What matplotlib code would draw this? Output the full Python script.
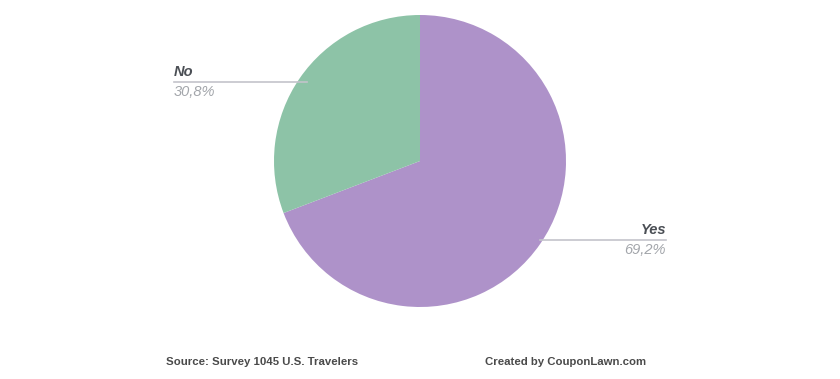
import matplotlib.pyplot as plt
import numpy as np

labels = ['Yes', 'No']
shares = [69.2, 30.8]
pct_text = ['69,2%', '30,8%']
colours = ['#ae92c9', '#8dc3a7']

plt.rcParams['font.family'] = ['Liberation Sans', 'DejaVu Sans']

fig = plt.figure(figsize=(8.4, 3.79), dpi=100)
ax = fig.add_axes([0, 0, 1, 1])

cx, cy, r = 420, 218, 146
wedges, _ = ax.pie(shares, colors=colours, startangle=90, counterclock=False,
                   center=(cx, cy), radius=r, frame=True)
ax.set_xlim(0, 840)
ax.set_ylim(0, 379)
ax.set_aspect('equal')
ax.axis('off')

# label leader lines (pixel layout)
line_col = '#c3c3cb'
ax.plot([174, 307], [379 - 82, 379 - 82], color=line_col, lw=1.2)
ax.plot([540, 666], [379 - 240, 379 - 240], color=line_col, lw=1.2)

name_col = '#4b4f55'
pct_col = '#a3a6ab'
ax.text(174, 379 - 79, labels[1], ha='left', va='bottom', fontsize=10.5,
        fontweight='bold', fontstyle='italic', color=name_col)
ax.text(174, 379 - 85, pct_text[1], ha='left', va='top', fontsize=10.5,
        fontstyle='italic', color=pct_col)
ax.text(666, 379 - 237, labels[0], ha='right', va='bottom', fontsize=10.5,
        fontweight='bold', fontstyle='italic', color=name_col)
ax.text(666, 379 - 243, pct_text[0], ha='right', va='top', fontsize=10.5,
        fontstyle='italic', color=pct_col)

ax.text(166, 379 - 362, 'Source: Survey 1045 U.S. Travelers', ha='left', va='center',
        fontsize=8.2, fontweight='bold', color='#4a4a4a')
ax.text(646, 379 - 362, 'Created by CouponLawn.com', ha='right', va='center',
        fontsize=8.2, fontweight='bold', color='#4a4a4a')

fig.savefig('out.png', dpi=100)
